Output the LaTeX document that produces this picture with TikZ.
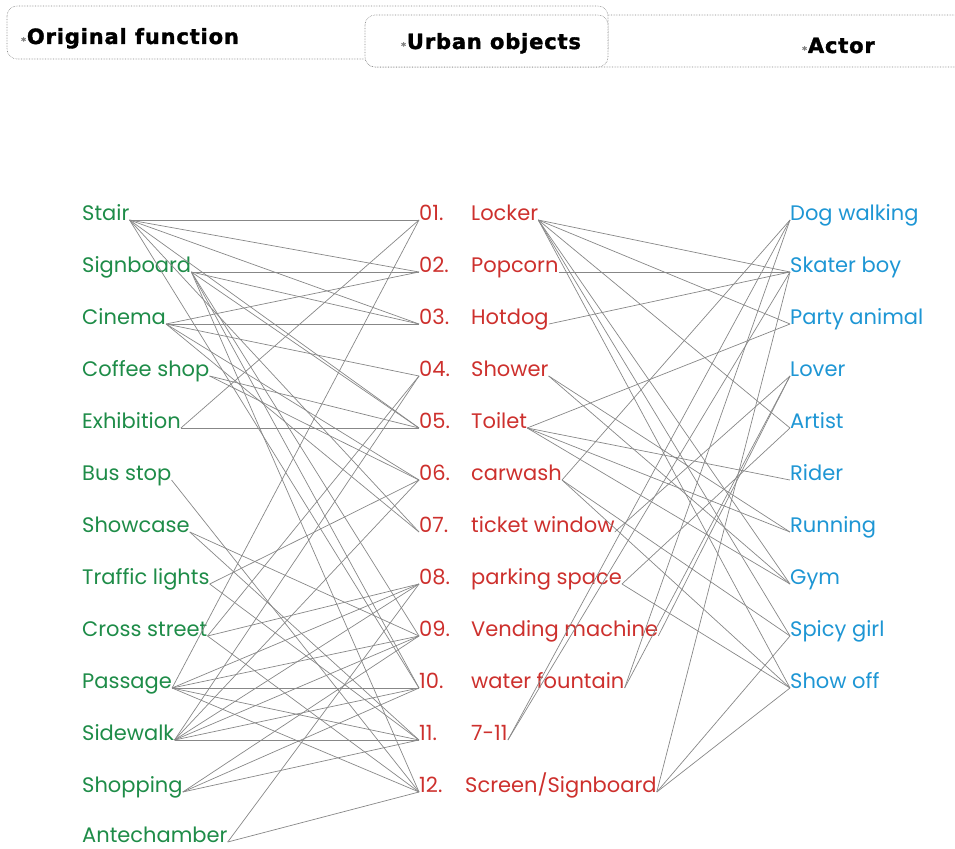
\documentclass[tikz,border=0pt]{standalone}
\usepackage{fontspec}
\setmainfont{Poppins}
\newfontfamily\headfont[LetterSpace=4,BoldFeatures={FakeBold=1.6}]{DejaVu Sans}
\usetikzlibrary{positioning}

\definecolor{funcgreen}{RGB}{30,140,72}
\definecolor{objred}{RGB}{205,48,45}
\definecolor{actorblue}{RGB}{30,150,212}
\definecolor{linkgray}{RGB}{135,135,135}

\newcommand{\headstar}{{\color{gray}\fontsize{9}{9}\selectfont*}\kern1pt}

\begin{document}
\begin{tikzpicture}[x=1pt,y=-1pt,every node/.style={inner sep=0pt}]
  \tikzstyle{headbox}=[draw=linkgray,densely dotted,line width=0.6pt,rounded corners=10pt,fill=white]
  \tikzstyle{head}=[anchor=base west,font=\headfont\bfseries\fontsize{21}{24}\selectfont]
  \tikzstyle{func}=[anchor=base west,text=funcgreen,font=\fontsize{21}{24}\selectfont]
  \tikzstyle{num}=[anchor=base west,text=objred,font=\fontsize{21}{24}\selectfont]
  \tikzstyle{obj}=[anchor=base west,text=objred,font=\fontsize{21}{24}\selectfont]
  \tikzstyle{actor}=[anchor=base west,text=actorblue,font=\fontsize{21}{24}\selectfont]
  \tikzstyle{link}=[draw=linkgray,line width=0.7pt]

  \useasboundingbox (0,0) rectangle (955,848);

  % header tabs
  \draw[headbox] (365,15) rectangle (1000,67);
  \draw[headbox] (7,6) rectangle (608,59);
  \draw[headbox] (365,15) rectangle (608,67);
  \node[head] (h1) at (21,44) {\headstar Original function};
  \node[head] (h2) at (401,49) {\headstar Urban objects};
  \node[head] (h3) at (802,53) {\headstar Actor};

  % original function
  \node[func] (stair)       at (82,220) {Stair};
  \node[func] (signboard)   at (82,272) {Signboard};
  \node[func] (cinema)      at (82,324) {Cinema};
  \node[func] (coffee)      at (82,376) {Coffee shop};
  \node[func] (exhibition)  at (82,428) {Exhibition};
  \node[func] (busstop)     at (82,480) {Bus stop};
  \node[func] (showcase)    at (82,532) {Showcase};
  \node[func] (traffic)     at (82,584) {Traffic lights};
  \node[func] (cross)       at (82,636) {Cross street};
  \node[func] (passage)     at (82,688) {Passage};
  \node[func] (sidewalk)    at (82,740) {Sidewalk};
  \node[func] (shopping)    at (82,792) {Shopping};
  \node[func] (antechamber) at (82,842) {Antechamber};

  % urban objects
  \node[num] (n01) at (419,220) {01.};
  \node[num] (n02) at (419,272) {02.};
  \node[num] (n03) at (419,324) {03.};
  \node[num] (n04) at (419,376) {04.};
  \node[num] (n05) at (419,428) {05.};
  \node[num] (n06) at (419,480) {06.};
  \node[num] (n07) at (419,532) {07.};
  \node[num] (n08) at (419,584) {08.};
  \node[num] (n09) at (419,636) {09.};
  \node[num] (n10) at (419,688) {10.};
  \node[num] (n11) at (419,740) {11.};
  \node[num] (n12) at (419,792) {12.};

  \node[obj] (locker)   at (471,220) {Locker};
  \node[obj] (popcorn)  at (471,272) {Popcorn};
  \node[obj] (hotdog)   at (471,324) {Hotdog};
  \node[obj] (shower)   at (471,376) {Shower};
  \node[obj] (toilet)   at (471,428) {Toilet};
  \node[obj] (carwash)  at (471,480) {carwash};
  \node[obj] (ticket)   at (471,532) {ticket window};
  \node[obj] (parking)  at (471,584) {parking space};
  \node[obj] (vending)  at (471,636) {Vending machine};
  \node[obj] (fountain) at (471,688) {water fountain};
  \node[obj] (seven)    at (471,740) {7-11};
  \node[obj] (screen)   at (465,792) {Screen/Signboard};

  % actors
  \node[actor] (dog)     at (790,220) {Dog walking};
  \node[actor] (skater)  at (790,272) {Skater boy};
  \node[actor] (party)   at (790,324) {Party animal};
  \node[actor] (lover)   at (790,376) {Lover};
  \node[actor] (artist)  at (790,428) {Artist};
  \node[actor] (rider)   at (790,480) {Rider};
  \node[actor] (running) at (790,532) {Running};
  \node[actor] (gym)     at (790,584) {Gym};
  \node[actor] (spicy)   at (790,636) {Spicy girl};
  \node[actor] (showoff) at (790,688) {Show off};

  % function -> object
  \foreach \a/\b in {stair/n01,stair/n02,stair/n03,stair/n05,stair/n07,stair/n10,
                     signboard/n02,signboard/n03,signboard/n05,signboard/n09,signboard/n10,signboard/n12,
                     cinema/n02,cinema/n03,cinema/n04,cinema/n06,cinema/n07,
                     coffee/n05,coffee/n06,
                     exhibition/n01,exhibition/n05,
                     busstop/n12,
                     showcase/n09,showcase/n11,
                     traffic/n06,traffic/n11,
                     cross/n08,cross/n12,cross/n04,
                     passage/n01,passage/n08,passage/n09,passage/n10,passage/n11,passage/n12,
                     sidewalk/n04,sidewalk/n06,sidewalk/n08,sidewalk/n09,sidewalk/n10,sidewalk/n11,
                     shopping/n09,shopping/n10,shopping/n11,
                     antechamber/n08,antechamber/n12}
    \draw[link] (\a.base east) -- (\b.base west);

  % object -> actor
  \foreach \a/\b in {locker/skater,locker/party,locker/artist,locker/gym,locker/spicy,locker/showoff,
                     popcorn/skater,hotdog/skater,
                     shower/running,shower/gym,
                     toilet/party,toilet/rider,toilet/running,toilet/gym,
                     carwash/dog,carwash/spicy,carwash/showoff,
                     ticket/lover,
                     parking/artist,parking/showoff,
                     vending/lover,
                     fountain/dog,fountain/lover,
                     seven/dog,seven/skater,
                     screen/skater,screen/spicy,screen/showoff}
    \draw[link] (\a.base east) -- (\b.base west);
\end{tikzpicture}
\end{document}
